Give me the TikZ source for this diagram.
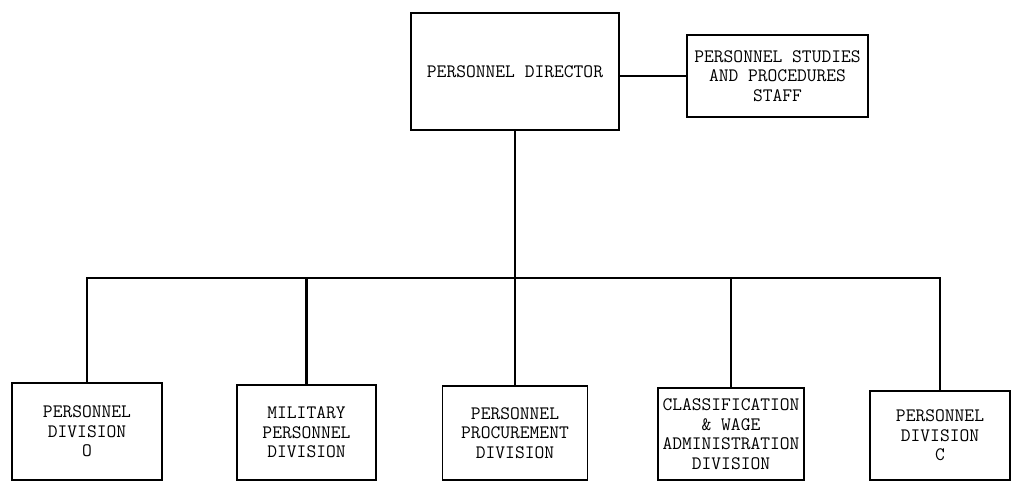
\documentclass[tikz,border=0pt]{standalone}
\usepackage{tikz}

\tikzset{
  box/.style={draw, line width=1.5pt, inner sep=0pt, align=center,
    font=\fontsize{19}{19.5}\selectfont\ttfamily},
  link/.style={line width=2.6pt}
}

\begin{document}
\begin{tikzpicture}[x=1pt,y=-1pt]
   % page is 1015 x 481 units, y runs down
   \useasboundingbox (0,0) rectangle (1015,481);

   \node[box, minimum width=208pt, minimum height=117pt] (dir) at (515,71.5) {PERSONNEL DIRECTOR};
   \node[box, minimum width=181pt, minimum height=82pt] (staff) at (777.5,76)
     {PERSONNEL STUDIES\\AND PROCEDURES\\STAFF};
   \draw[link] (staff.west) -- (staff.west -| dir.east);

   \coordinate (bus) at (515,278);
   \draw[link] (dir.south) -- (bus);

   \foreach \n/\x/\y/\w/\h/\t in {
       1/87/431.5/150/97/{PERSONNEL\\DIVISION\\O},
       2/306.5/432.5/139/95/{MILITARY\\PERSONNEL\\DIVISION},
       3/515/433/145/94/{PERSONNEL\\PROCUREMENT\\DIVISION},
       4/731/434/146/92/{CLASSIFICATION\\\& WAGE\\ADMINISTRATION\\DIVISION},
       5/940/435.5/140/89/{PERSONNEL\\DIVISION\\C}} {
     \node[box, minimum width=\w pt, minimum height=\h pt] (d\n) at (\x,\y) {\t};
     \draw[link] (bus) -| (d\n.north);
   }
\end{tikzpicture}
\end{document}
